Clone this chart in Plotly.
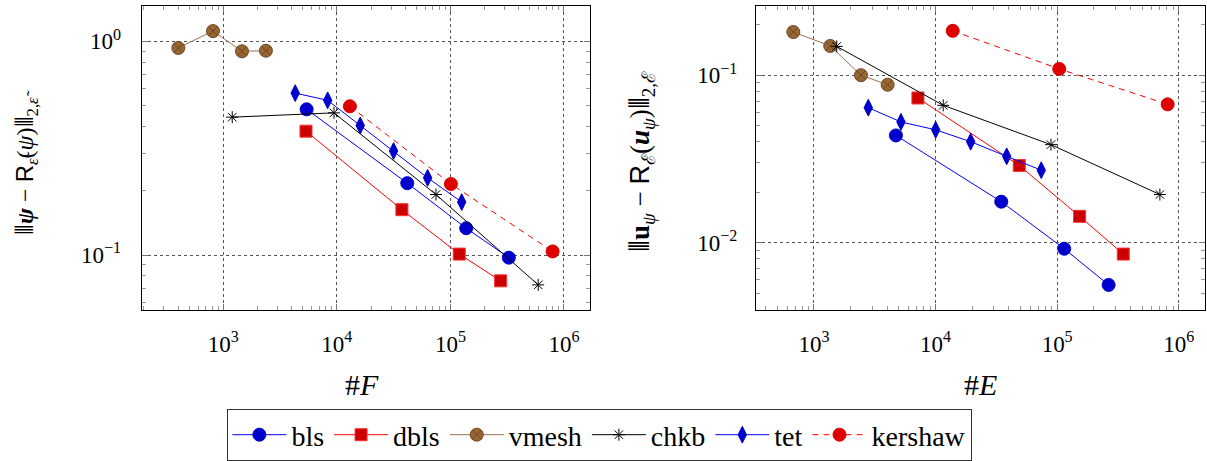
import plotly.graph_objects as go

# ---------------- data (left panel: #F) ----------------
bls_F = [5420, 41700, 137800, 327000]
bls_psi = [0.481, 0.217, 0.1335, 0.0972]
dbls_F = [5350, 37400, 119700, 276800]
dbls_psi = [0.380, 0.163, 0.101, 0.0757]
vmesh_F = [402, 812, 1462, 2375]
vmesh_psi = [0.932, 1.118, 0.899, 0.905]
chkb_F = [1200, 9440, 74600, 593000]
chkb_psi = [0.442, 0.463, 0.192, 0.0725]
tet_F = [4300, 8300, 16070, 31600, 63000, 125700]
tet_psi = [0.573, 0.530, 0.404, 0.307, 0.2298, 0.177]
kershaw_F = [13030, 101000, 794000]
kershaw_psi = [0.497, 0.215, 0.104]

# ---------------- data (right panel: #E) ----------------
bls_E = [4720, 34700, 114300, 265000]
bls_u = [0.0437, 0.01758, 0.00921, 0.0056]
dbls_E = [7160, 48800, 153000, 349800]
dbls_u = [0.0731, 0.0289, 0.01438, 0.00856]
vmesh_E = [676, 1361, 2435, 4035]
vmesh_u = [0.181, 0.1494, 0.100, 0.0877]
chkb_E = [1537, 11560, 88900, 700000]
chkb_u = [0.1486, 0.0661, 0.0385, 0.0194]
tet_E = [2796, 5190, 10020, 19440, 38450, 74000]
tet_u = [0.0640, 0.0526, 0.0472, 0.0401, 0.0328, 0.0271]
kershaw_E = [13840, 104000, 811000]
kershaw_u = [0.184, 0.109, 0.067]

series_names = ["bls", "dbls", "vmesh", "chkb", "tet", "kershaw"]

# tick labels
x_tickvals = [1e3, 1e4, 1e5, 1e6]
x_ticktext = ["10<sup>3</sup>", "10<sup>4</sup>", "10<sup>5</sup>", "10<sup>6</sup>"]
yl_tickvals = [1.0, 0.1]
yl_ticktext = ["10<sup>0</sup>", "10<sup>−1</sup>"]
yr_tickvals = [0.1, 0.01]
yr_ticktext = ["10<sup>−1</sup>", "10<sup>−2</sup>"]

styles = {
    "bls": dict(line=dict(color="#0000ff", width=1), marker=dict(symbol="circle", size=13, color="#0000cc", line=dict(color="#0000cc", width=1))),
    "dbls": dict(line=dict(color="#ff0000", width=1), marker=dict(symbol="square", size=12, color="#cc0000", line=dict(color="#ff3030", width=1))),
    "vmesh": dict(line=dict(color="#9a7050", width=1), marker=dict(symbol="circle-x", size=13, color="#996633", line=dict(color="#6b4724", width=1))),
    "chkb": dict(line=dict(color="#000000", width=1), marker=dict(symbol="asterisk-open", size=10, color="#000000", line=dict(color="#000000", width=1))),
    "tet": dict(line=dict(color="#0000ff", width=1), marker=dict(symbol="diamond-tall", size=12, color="#0000cc", line=dict(color="#0000cc", width=1))),
    "kershaw": dict(line=dict(color="#ff0000", width=1, dash="6px,5px"), marker=dict(symbol="circle", size=13, color="#dd0000", line=dict(color="#dd0000", width=1))),
}

left = {
    "bls": (bls_F, bls_psi), "dbls": (dbls_F, dbls_psi), "vmesh": (vmesh_F, vmesh_psi),
    "chkb": (chkb_F, chkb_psi), "tet": (tet_F, tet_psi), "kershaw": (kershaw_F, kershaw_psi),
}
right = {
    "bls": (bls_E, bls_u), "dbls": (dbls_E, dbls_u), "vmesh": (vmesh_E, vmesh_u),
    "chkb": (chkb_E, chkb_u), "tet": (tet_E, tet_u), "kershaw": (kershaw_E, kershaw_u),
}

FONT = "Liberation Serif"

fig = go.Figure()
for name in series_names:
    x, y = left[name]
    fig.add_trace(go.Scatter(x=x, y=y, mode="lines+markers", name=name, xaxis="x", yaxis="y",
                             legendgroup=name, showlegend=True, **styles[name]))
for name in series_names:
    x, y = right[name]
    fig.add_trace(go.Scatter(x=x, y=y, mode="lines+markers", name=name, xaxis="x2", yaxis="y2",
                             legendgroup=name, showlegend=False, **styles[name]))

W, H = 1207, 461
def px(xp):
    return xp / W
def py(yp):
    return 1 - yp / H

axis_common = dict(
    type="log", showline=True, linecolor="black", linewidth=1, mirror="allticks",
    ticks="inside", ticklen=6, tickcolor="#777", tickwidth=1,
    showgrid=True, gridcolor="#555", griddash="dot", gridwidth=1,
    tickmode="array", zeroline=False,
    tickfont=dict(family=FONT, size=23, color="black"),
    minor=dict(ticks="inside", ticklen=4, tickcolor="#999", dtick="D1", showgrid=False),
)

fig.update_layout(
    width=W, height=H,
    margin=dict(l=0, r=0, t=0, b=0),
    paper_bgcolor="white", plot_bgcolor="white",
    font=dict(family=FONT, color="black"),
    xaxis=dict(domain=[px(141.7), px(590)], range=[2.282, 6.229], anchor="y", ticklabelstandoff=13,
               tickvals=x_tickvals, ticktext=x_ticktext, **axis_common),
    yaxis=dict(domain=[py(312.3), py(5.7)], range=[-1.2586, 0.1674], anchor="x", ticklabelstandoff=15,
               tickvals=yl_tickvals, ticktext=yl_ticktext, **axis_common),
    xaxis2=dict(domain=[px(756), px(1204.5)], range=[2.523, 6.212], anchor="y2", ticklabelstandoff=13,
                tickvals=x_tickvals, ticktext=x_ticktext, **axis_common),
    yaxis2=dict(domain=[py(312.3), py(5.7)], range=[-2.403, -0.585], anchor="x2", ticklabelstandoff=13,
                tickvals=yr_tickvals, ticktext=yr_ticktext, **axis_common),
    showlegend=True,
    legend=dict(orientation="h", x=0.497, xanchor="center", y=py(412), yanchor="top",
                bordercolor="#333", borderwidth=1, font=dict(family=FONT, size=28, color="black"),
                itemwidth=54, tracegroupgap=0),
)

RS = "<span style='font-family:Liberation Sans'>R</span>"
ann = dict(showarrow=False, xref="paper", yref="paper")
fig.add_annotation(text="#<i>F</i>", x=px(362), y=py(387), xanchor="center", yanchor="middle",
                   font=dict(family=FONT, size=30, color="black"), **ann)
fig.add_annotation(text="#<i>E</i>", x=px(980), y=py(387), xanchor="center", yanchor="middle",
                   font=dict(family=FONT, size=30, color="black"), **ann)
fig.add_annotation(text="⦀<b><i>ψ</i></b> − " + RS + "<sub><i>ε̃</i></sub>(<i>ψ</i>)⦀<sub>2,<i>ε̃</i></sub>",
                   x=px(27), y=py(164), xanchor="center", yanchor="middle", textangle=-90,
                   font=dict(family=FONT, size=24, color="black"), **ann)
fig.add_annotation(text="⦀<b>u</b><sub><i>ψ</i></sub> − " + RS + "<sub>ℰ</sub>(<b><i>u</i></b><sub><i>ψ</i></sub>)⦀<sub>2,ℰ</sub>",
                   x=px(642), y=py(163), xanchor="center", yanchor="middle", textangle=-90,
                   font=dict(family=FONT, size=27, color="black"), **ann)

fig.write_html("out.html", config={"displayModeBar": False},
               post_script="document.body.style.margin='0';document.body.style.overflow='hidden';")
